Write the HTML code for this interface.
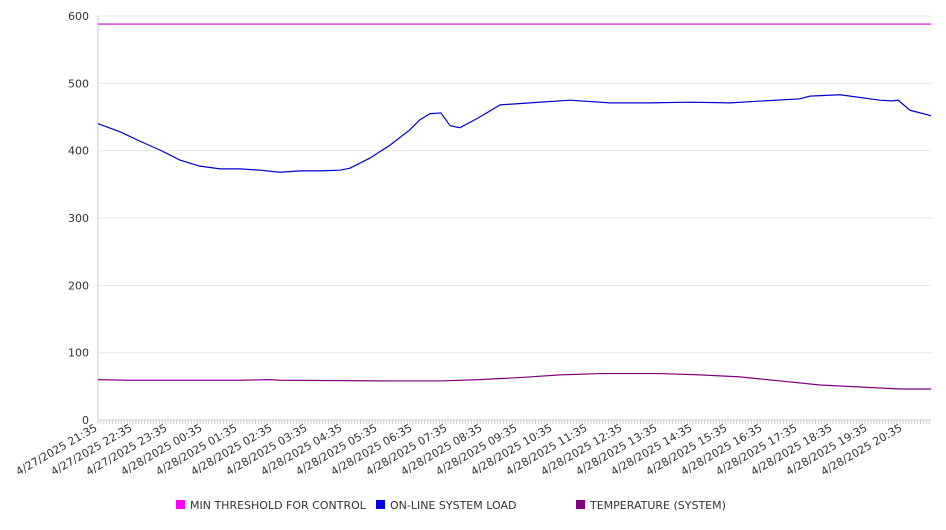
<!DOCTYPE html>
<html><head><meta charset="utf-8"><style>
body{margin:0;background:#fff;font-family:"DejaVu Sans","Liberation Sans",sans-serif}
svg text{font-family:"DejaVu Sans","Liberation Sans",sans-serif;font-size:11px;fill:#333}
</style></head><body>
<svg id="c" width="946" height="526"></svg>
<script>
const yTicks=[0,100,200,300,400,500,600];
const xLabels=["4/27/2025 21:35","4/27/2025 22:35","4/27/2025 23:35","4/28/2025 00:35","4/28/2025 01:35","4/28/2025 02:35","4/28/2025 03:35","4/28/2025 04:35","4/28/2025 05:35","4/28/2025 06:35","4/28/2025 07:35","4/28/2025 08:35","4/28/2025 09:35","4/28/2025 10:35","4/28/2025 11:35","4/28/2025 12:35","4/28/2025 13:35","4/28/2025 14:35","4/28/2025 15:35","4/28/2025 16:35","4/28/2025 17:35","4/28/2025 18:35","4/28/2025 19:35","4/28/2025 20:35"];
const loadHours=[0,0.63,1.2,1.77,2.34,2.91,3.49,4.06,4.63,5.2,5.77,6.34,6.91,7.2,7.77,8.34,8.91,9.2,9.49,9.51,9.8,10.06,10.34,10.91,11.49,12.34,13.49,14.63,15.77,16.91,18.06,20.06,20.34,21.2,22.34,22.69,22.86,23.2,23.8];
const loadVals=[440,428,414,401,386,377,373,373,371,368,370,370,371,374,389,408,431,446,455,455,456,437,434,450,468,471,475,471,471,472,471,477,481,483,475,474,475,460,452];
const tempHours=[0,0.91,4.06,4.91,5.2,8.63,9.77,10.91,12.06,13.2,14.34,16.06,17.2,18.34,19.49,20.63,21.77,22.91,23.8];
const tempVals=[60,59,59,60,59,58,58,60,63,67,69,69,67,64,58,52,49,46,46];
const threshold=588;
const svg=document.getElementById('c');const NS='http://www.w3.org/2000/svg';
const X0=98,PX_H=35,Y0=420,PX_V=404/600,XEND=931;
const sx=h=>X0+h*PX_H, sy=v=>Y0-v*PX_V;
function mk(t,a,p){const e=document.createElementNS(NS,t);for(const k in a)e.setAttribute(k,a[k]);(p||svg).appendChild(e);return e;}
yTicks.forEach(v=>{
 if(v>0){const g=mk('line',{x1:X0,x2:XEND,y1:sy(v),y2:sy(v),stroke:'#e6e6e6'});
 
 }
 const t=mk('text',{x:89,y:sy(v)+4,'text-anchor':'end'});t.textContent=v;
 
 
});
const ax=mk('line',{x1:X0,x2:X0,y1:16,y2:Y0,stroke:'#ccc'});


const bx=mk('line',{x1:X0,x2:XEND,y1:Y0,y2:Y0,stroke:'#ccc'});


for(let m=0;m<=23.8*12;m++){const x=X0+m*PX_H/12;const l=mk('line',{x1:x,x2:x,y1:Y0,y2:Y0+4,stroke:'#ccc'});
 
 }
xLabels.forEach((s,i)=>{const x=sx(i);const t=mk('text',{x:x,y:Y0+10,'text-anchor':'end',transform:`rotate(-30 ${x} ${Y0+10})`});t.textContent=s;
 
 });
const th=mk('line',{x1:X0,x2:XEND,y1:sy(threshold),y2:sy(threshold),stroke:'#cc00cc','stroke-width':1.2});


function line(hs,vs,c,n){const p=mk('polyline',{points:hs.map((h,i)=>sx(h)+','+sy(vs[i])).join(' '),fill:'none',stroke:c,'stroke-width':1.2});
 
 }
line(loadHours,loadVals,'#0000cc','online-system-load-line');
line(tempHours,tempVals,'#800080','temperature-line');
[["MIN THRESHOLD FOR CONTROL","#ff00ff",176],["ON-LINE SYSTEM LOAD","#0000ee",376],["TEMPERATURE (SYSTEM)","#800080",576]].forEach(([s,c,x])=>{
 const g=mk('g',{});
 
 
 mk('rect',{x:x,y:500,width:9,height:9,fill:c},g);
 const t=mk('text',{x:x+14,y:509},g);t.textContent=s;});
</script>
</body></html>
